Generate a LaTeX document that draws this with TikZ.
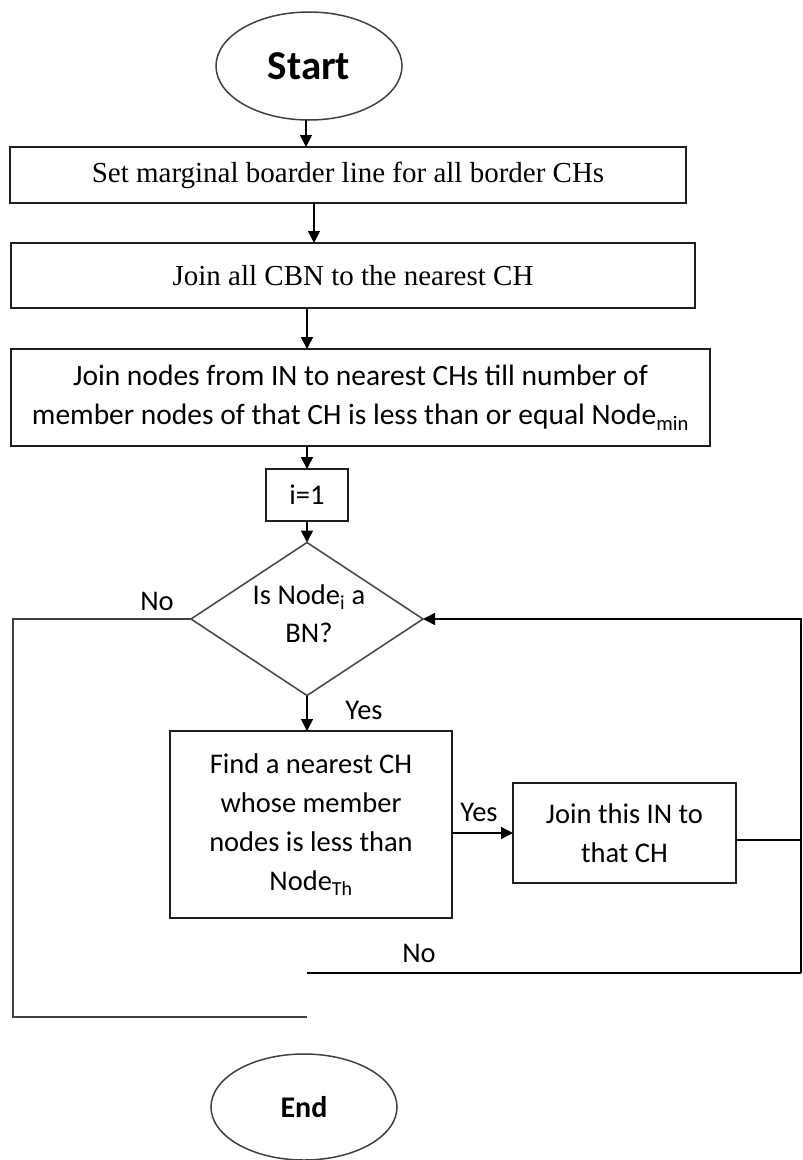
\documentclass[tikz,border=0pt]{standalone}
\usepackage{fontspec}
\setmainfont{Carlito}
\newfontfamily\serifface{Liberation Serif}
\usetikzlibrary{shapes.geometric,arrows.meta}
\begin{document}
\begin{tikzpicture}[x=1pt,y=-1pt,
  every node/.style={inner sep=0pt, outer sep=0pt},
  term/.style={ellipse, draw=black!75, line width=1.5pt},
  procbox/.style={rectangle, draw=black!88, line width=1.7pt, align=center,
    font=\fontsize{28.5}{39}\selectfont},
  serifbox/.style={procbox, font=\serifface\fontsize{29}{34}\selectfont},
  decision/.style={diamond, draw=black!70, line width=1.6pt},
  lbl/.style={font=\fontsize{28.5}{38}\selectfont, align=center},
  flow/.style={line width=1.7pt, -{Triangle[length=12pt,width=12pt]}},
  plainline/.style={line width=1.7pt},
  loopline/.style={line width=1.3pt, draw=black!75}
]
\useasboundingbox (0,0) rectangle (803,1160);

% terminals
\node[term, minimum width=186pt, minimum height=108pt,
      font=\bfseries\fontsize{41}{48}\selectfont] (start) at (309,66) {Start};
\node[term, minimum width=186pt, minimum height=106pt,
      font=\bfseries\fontsize{30}{36}\selectfont] (end) at (304,1107) {End};

% process steps
\node[serifbox, minimum width=676pt, minimum height=56pt] (b1) at (348,175)
  {Set marginal boarder line for all border CHs};
\node[serifbox, minimum width=684pt, minimum height=65pt] (b2) at (353,275.5)
  {Join all CBN to the nearest CH};
\node[procbox, minimum width=699pt, minimum height=97pt,
      font=\fontsize{29.5}{39}\selectfont] (b3) at (360.5,397.5)
  {Join nodes from IN to nearest CHs till number of\\
   member nodes of that CH is less than or equal Node\textsubscript{min}};
\node[procbox, minimum width=82pt, minimum height=52pt] (i1) at (307,495) {i=1};

% decision
\node[decision, minimum width=232pt, minimum height=153pt] (dec) at (307,619) {};
\node[lbl] (dectext) at (309,614) {Is Node\textsubscript{i} a\\BN?};

\node[procbox, minimum width=282pt, minimum height=187pt] (find) at (311,824.5)
  {Find a nearest CH\\ whose member\\ nodes is less than\\ Node\textsubscript{Th}};
\node[procbox, minimum width=223pt, minimum height=100pt] (join) at (624.5,833)
  {Join this IN to\\ that CH};

% branch labels
\node[lbl] (no1) at (157,601) {No};
\node[lbl] (yes1) at (364,710) {Yes};
\node[lbl] (yes2) at (479,812) {Yes};
\node[lbl] (no2) at (419,953) {No};

% routing points
\coordinate (ax1) at (314,0);
\coordinate (rt) at (801,840);
\coordinate (rb) at (801,973);
\coordinate (nob) at (307,973);
\coordinate (ll) at (13,1017);
\coordinate (lend) at (307,1017);

% connectors
\draw[flow] (start.south -| 306,0) -- (b1.north -| 306,0);
\draw[flow] (b1.south -| ax1) -- (b2.north -| ax1);
\draw[flow] (b2.south -| i1) -- (b3.north -| i1);
\draw[flow] (b3.south -| i1) -- (i1.north);
\draw[flow] (i1.south) -- (dec.north);
\draw[flow] (dec.south) -- (dec.south |- find.north);
\draw[flow] (find.east |- join) -- (join.west);
\draw[plainline] ([yshift=-7pt]join.east) -- (rt);
\draw[flow] (rb) -- (dec.east -| rb) -- (dec.east);
\draw[plainline] (rb) -- (nob);
\draw[loopline] (dec.west) -- (dec.west -| ll) -- (ll) -- (lend);
\end{tikzpicture}
\end{document}
